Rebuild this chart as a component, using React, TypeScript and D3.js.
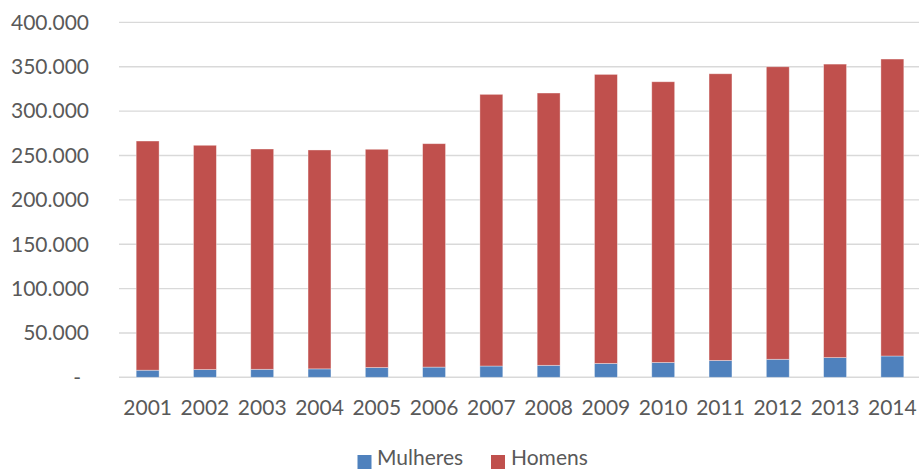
import React from "react";
import * as d3 from "d3";

const years = ["2001","2002","2003","2004","2005","2006","2007","2008","2009","2010","2011","2012","2013","2014"];
const mulheres = [8000, 8700, 9000, 9500, 11000, 11500, 12700, 13500, 15600, 16700, 19000, 20300, 22200, 24000];
const homens = [258300, 252800, 248300, 246700, 246000, 251800, 306200, 306900, 325800, 316400, 323100, 329700, 330800, 334700];
const yTicks = [0, 50000, 100000, 150000, 200000, 250000, 300000, 350000, 400000];
const seriesNames = ["Mulheres", "Homens"];
const colors = ["#4F81BD", "#C0504D"];

const W = 919, H = 470;
const left = 119, right = 921, top = 22.4, bottom = 377.3;

export default function App() {
  const x = d3.scaleBand<string>().domain(years).range([left, right]).paddingInner(0.6).paddingOuter(0.3);
  const y = d3.scaleLinear().domain([0, 400000]).range([bottom, top]);
  const fmt = (v: number) => v === 0 ? "-" : d3.format(",")(v).replace(/,/g, ".");
  const font = "Lato, 'Open Sans', sans-serif";
  const textColor = "#595959";
  const stack = d3.stack<number>().keys(["0", "1"]).value((i, k) => (k === "0" ? mulheres[i] : homens[i]));
  const series = stack(years.map((_, i) => i));

  return (
    <svg width={W} height={H} style={{ position: "absolute", left: 0, top: 0, background: "#fff" }} fontFamily={font}>
      {yTicks.map((t) => (
        <g key={t}>
          <line x1={left} x2={W} y1={y(t)} y2={y(t)} stroke="#D9D9D9" strokeWidth={1.4} />
          <text x={t === 0 ? 81 : 89} y={y(t)} dy="0.35em" textAnchor="end" fontSize={21} fill={textColor}>{fmt(t)}</text>
        </g>
      ))}
      {series.map((s, si) => (
        <g key={si}>
          {s.map((d, i) => (
            <rect key={i} x={x(years[i])!} width={x.bandwidth()} y={y(d[1])} height={y(d[0]) - y(d[1])}
              fill={colors[si]} stroke="#ffffff" strokeOpacity={0.45} strokeWidth={0.8} />
          ))}
        </g>
      ))}
      {years.map((yr) => (
        <text key={yr} x={x(yr)! + x.bandwidth() / 2} y={408} dy="0.35em" textAnchor="middle" fontSize={21} fill={textColor}>{yr}</text>
      ))}
      <g>
        <rect x={357.5} y={455} width={14} height={14} fill={colors[0]} />
        <text x={377} y={458} dy="0.35em" fontSize={21} fill={textColor}>{seriesNames[0]}</text>
        <rect x={491} y={455} width={14} height={14} fill={colors[1]} />
        <text x={511} y={458} dy="0.35em" fontSize={21} fill={textColor}>{seriesNames[1]}</text>
      </g>
    </svg>
  );
}
